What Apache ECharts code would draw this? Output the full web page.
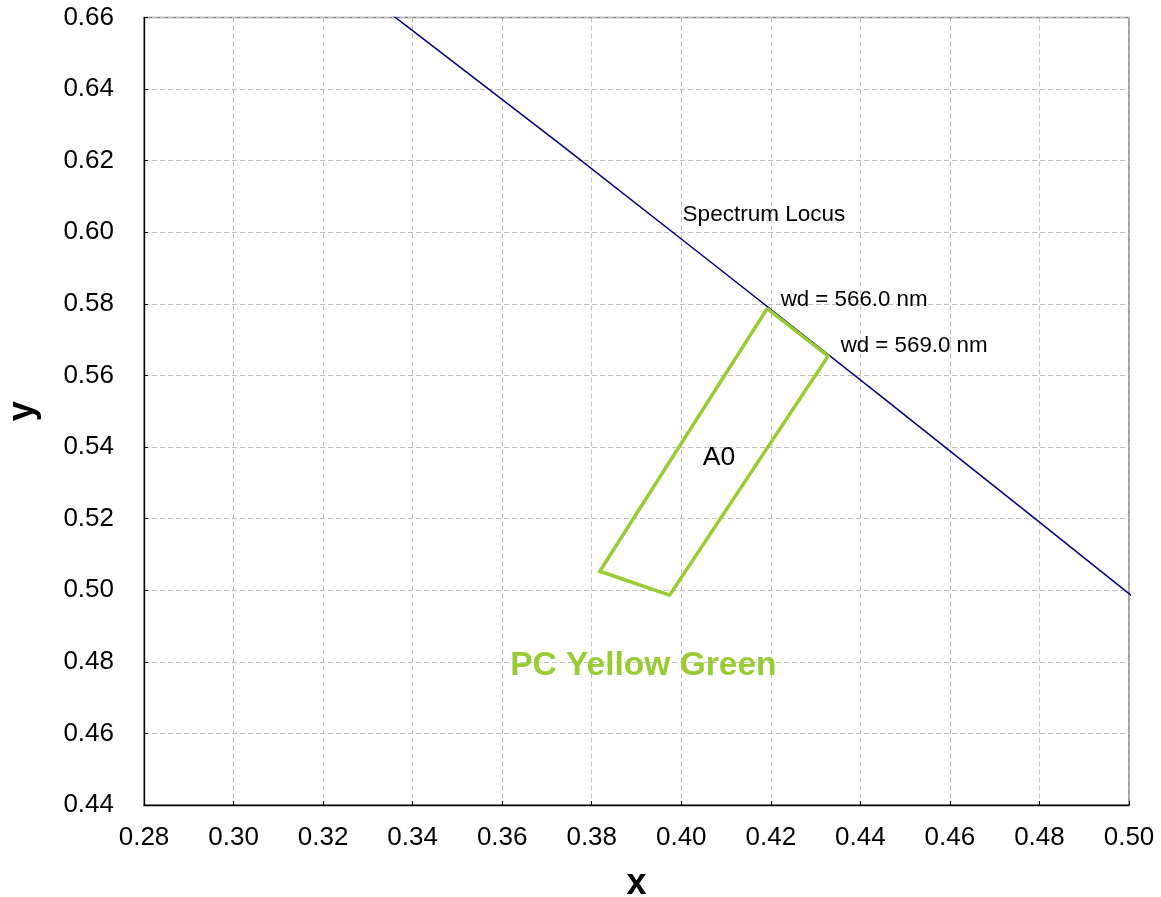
<!DOCTYPE html>
<html>
<head>
<meta charset="utf-8">
<style>html,body{margin:0;padding:0;background:#fff;overflow:hidden;width:100%;height:100%;}#c{position:absolute;left:0;top:0;width:1161px;height:897px;}</style>
<script src="https://cdn.jsdelivr.net/npm/echarts@6/dist/echarts.min.js"></script>
</head>
<body>
<div id="c"></div>
<script>
// Spectrum locus (CIE 1931 chromaticity, 550–580 nm)
var locusX = [0.3016, 0.3373, 0.3731, 0.4087, 0.4441, 0.4788, 0.5125];
var locusY = [0.6923, 0.6589, 0.6245, 0.5896, 0.5547, 0.5202, 0.4866];
// A0 region of PC Yellow Green
var regionX = [0.4192, 0.4328, 0.3974, 0.3818, 0.4192];
var regionY = [0.5787, 0.5654, 0.4986, 0.5053, 0.5787];
// annotations
var noteText = ['Spectrum Locus', 'wd = 566.0 nm', 'wd = 569.0 nm', 'A0', 'PC Yellow Green'];
var noteX = [0.4003, 0.4222, 0.4356, 0.4048, 0.3618];
var noteY = [0.6050, 0.5812, 0.5684, 0.5370, 0.4790];
var xTicks = [0.28, 0.50, 0.02];
var yTicks = [0.44, 0.66, 0.02];

var FONT = '"Liberation Sans", Arial, sans-serif';
var noteStyle = [
  {fontSize: 22.5, color: '#000', fontWeight: 'normal'},
  {fontSize: 22.3, color: '#000', fontWeight: 'normal'},
  {fontSize: 22.3, color: '#000', fontWeight: 'normal'},
  {fontSize: 26.5, color: '#000', fontWeight: 'normal'},
  {fontSize: 33.5, color: '#99CC33', fontWeight: 'bold'}
];

function zip(a, b) { return a.map(function (v, i) { return [v, b[i]]; }); }

var notes = noteText.map(function (t, i) {
  return {
    value: [noteX[i], noteY[i]],
    label: {
      show: true, formatter: t, position: 'right', distance: 0, opacity: 1,
      fontSize: noteStyle[i].fontSize, color: noteStyle[i].color,
      fontWeight: noteStyle[i].fontWeight, fontFamily: FONT
    }
  };
});

var chart = echarts.init(document.getElementById('c'));
var gridLine = {show: true, lineStyle: {color: '#C0C0C0', type: [5, 3], width: 1}};
chart.setOption({
  animation: false,
  grid: {left: 144, top: 17.5, width: 985, height: 787.5, containLabel: false, outerBoundsMode: 'none',
         show: true, borderColor: '#808080', borderWidth: 1.5, backgroundColor: 'transparent'},
  xAxis: {
    type: 'value', min: xTicks[0], max: xTicks[1], interval: xTicks[2],
    name: 'x', nameLocation: 'middle', nameGap: 61,
    nameTextStyle: {fontSize: 36, fontWeight: 'bold', color: '#000', fontFamily: FONT},
    axisLine: {show: true, lineStyle: {color: '#000', width: 1.3}},
    axisTick: {show: true, inside: true, length: 4, lineStyle: {color: '#000'}},
    axisLabel: {fontSize: 26, color: '#000', margin: 20, fontFamily: FONT, formatter: function (v) { return v.toFixed(2); }},
    splitLine: gridLine
  },
  yAxis: {
    type: 'value', min: yTicks[0], max: yTicks[1], interval: yTicks[2],
    name: 'y', nameLocation: 'middle', nameGap: 103,
    nameTextStyle: {fontSize: 36, fontWeight: 'bold', color: '#000', fontFamily: FONT},
    axisLine: {show: true, lineStyle: {color: '#000', width: 1.3}},
    axisTick: {show: true, inside: true, length: 4, lineStyle: {color: '#000'}},
    axisLabel: {fontSize: 26, color: '#000', margin: 30, fontFamily: FONT, formatter: function (v) { return v.toFixed(2); }},
    splitLine: gridLine
  },
  series: [
    {type: 'line', data: zip(locusX, locusY), showSymbol: false, symbol: 'none', clip: true,
     lineStyle: {color: '#000080', width: 1.5}, z: 3},
    {type: 'line', data: zip(regionX, regionY), showSymbol: false, symbol: 'none', clip: true,
     lineStyle: {color: '#99CC33', width: 3.5, join: 'miter'}, z: 4},
    {type: 'scatter', data: notes, symbolSize: 0, z: 5, silent: true, itemStyle: {opacity: 1}}
  ]
});
</script>
</body>
</html>
